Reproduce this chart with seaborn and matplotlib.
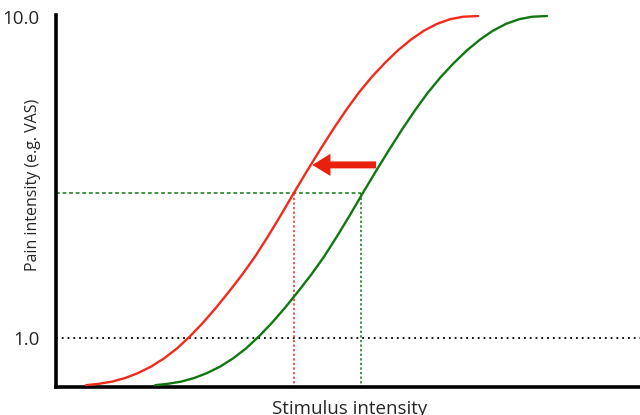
import pandas as pd
import matplotlib
matplotlib.use("Agg")
import matplotlib.pyplot as plt
import seaborn as sns

# curves (stimulus 0-100, pain scale as on the y axis)
red_x = [5.14, 7.36, 9.59, 11.82, 14.04, 16.27, 18.49, 20.72, 22.95, 25.17, 27.40,
         29.62, 31.85, 34.08, 36.30, 38.53, 40.75, 42.98, 45.21, 47.43, 49.66, 51.88,
         54.11, 56.34, 58.56, 60.79, 63.01, 65.24, 67.47, 69.69, 72.26]
red_y = [-0.32, -0.28, -0.22, -0.12, 0.02, 0.20, 0.43, 0.71, 1.05, 1.43, 1.85,
         2.30, 2.77, 3.28, 3.85, 4.45, 5.07, 5.68, 6.27, 6.84, 7.38, 7.88,
         8.32, 8.71, 9.06, 9.36, 9.61, 9.80, 9.93, 10.0, 10.02]
green_x = [16.96, 19.18, 21.41, 23.64, 25.86, 28.09, 30.31, 32.54, 34.77, 36.99, 39.22,
           41.44, 43.67, 45.90, 48.12, 50.35, 52.57, 54.80, 57.03, 59.25, 61.48, 63.70,
           65.93, 68.16, 70.38, 72.61, 74.83, 77.06, 79.29, 81.51, 84.08]
green_y = [-0.32, -0.28, -0.22, -0.12, 0.02, 0.20, 0.43, 0.71, 1.05, 1.43, 1.85,
           2.30, 2.77, 3.28, 3.85, 4.45, 5.07, 5.68, 6.27, 6.84, 7.38, 7.88,
           8.32, 8.71, 9.06, 9.36, 9.61, 9.80, 9.93, 10.0, 10.02]

y_ticks = [1.0, 10.0]
y_tick_labels = ["1.0", "10.0"]
level_y = 5.07       # green dotted level
red_cross_x = 40.7
green_cross_x = 52.3
arrow_tail_x = 54.8
arrow_head_x = 43.9
arrow_y = 5.85

red = "#f22a1c"
green = "#117811"

df = pd.concat([
    pd.DataFrame({"x": red_x, "y": red_y, "curve": "red"}),
    pd.DataFrame({"x": green_x, "y": green_y, "curve": "green"}),
])

sns.set_style("white")
plt.rcParams["font.family"] = ["Open Sans", "DejaVu Sans"]

fig = plt.figure(figsize=(6.4, 4.15), dpi=100)
ax = fig.add_axes([0.0875, 0.0675, 0.9125, 0.8965])

# reference lines
ax.axhline(1.0, color="black", lw=1.3, ls=(0, (1, 2.2)), zorder=1)
ax.plot([0, green_cross_x], [level_y, level_y], color=green, lw=1.1, ls=(0, (2.5, 1.8)), zorder=1)
ax.plot([red_cross_x, red_cross_x], [-0.4, level_y], color=red, lw=1.1, ls=(0, (1.5, 1.5)), zorder=1)
ax.plot([green_cross_x, green_cross_x], [-0.4, level_y], color=green, lw=1.1, ls=(0, (1.5, 1.5)), zorder=1)

sns.lineplot(data=df, x="x", y="y", hue="curve", palette={"red": red, "green": green},
             sort=False, estimator=None, lw=1.7, legend=False, ax=ax, zorder=3)

# shift arrow
ax.annotate("", xy=(arrow_head_x, arrow_y), xytext=(arrow_tail_x, arrow_y),
            arrowprops=dict(arrowstyle="simple,head_length=1.3,head_width=1.6,tail_width=0.5",
                            color="#e8200c", lw=0, shrinkA=0, shrinkB=0), zorder=4)

ax.set_xlim(0, 100)
ax.set_ylim(-0.37, 10.05)
ax.set_xticks([])
ax.set_yticks(y_ticks)
ax.set_yticklabels(y_tick_labels)
ax.tick_params(axis="y", length=0, pad=12, labelsize=13.5)
for side in ["top", "right"]:
    ax.spines[side].set_visible(False)
for side in ["left", "bottom"]:
    ax.spines[side].set_linewidth(2.6)
    ax.spines[side].set_color("black")
ax.set_xlabel("")
ax.set_ylabel("")

fig.text(0.547, -0.008, "Stimulus intensity", ha="center", va="bottom", fontsize=13.5)
fig.text(0.052, 0.555, "Pain intensity (e.g. VAS)", ha="center", va="center",
         rotation=90, fontsize=11.5)

fig.savefig("out.png", dpi=100)
